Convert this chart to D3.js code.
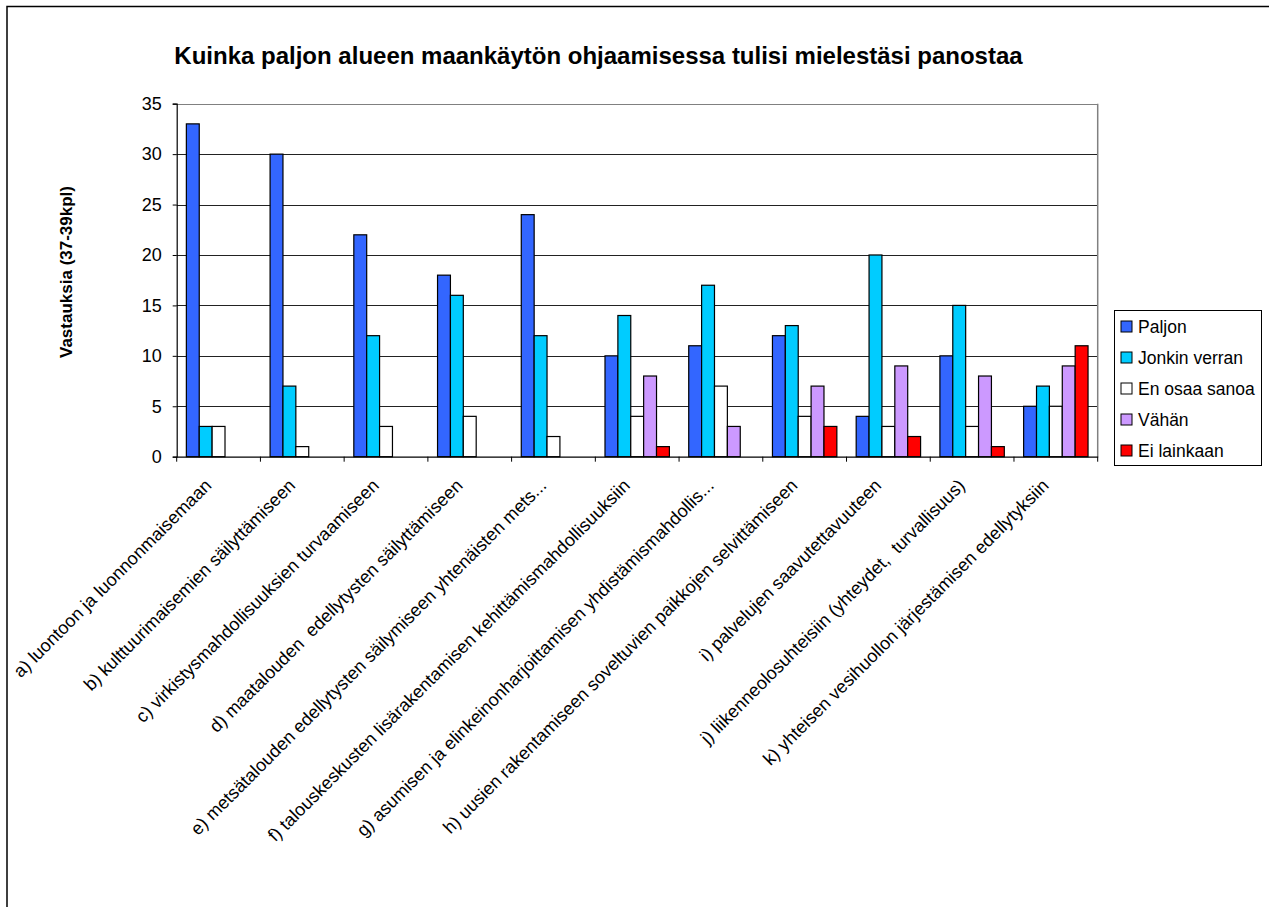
<!DOCTYPE html>
<html>
<head>
<meta charset="utf-8">
<script src="https://cdn.jsdelivr.net/npm/d3@7"></script>
<style>
  body { margin: 0; background: #fff; }
  text { font-family: Arial, "Liberation Sans", sans-serif; }
</style>
</head>
<body>
<svg id="chart" width="1269" height="907"></svg>
<script>
var categories = [
  'a) luontoon ja luonnonmaisemaan',
  'b) kulttuurimaisemien säilyttämiseen',
  'c) virkistysmahdollisuuksien turvaamiseen',
  'd) maatalouden  edellytysten säilyttämiseen',
  'e) metsätalouden edellytysten säilymiseen yhtenäisten mets...',
  'f) talouskeskusten lisärakentamisen kehittämismahdollisuuksiin',
  'g) asumisen ja elinkeinonharjoittamisen yhdistämismahdollis...',
  'h) uusien rakentamiseen soveltuvien paikkojen selvittämiseen',
  'i) palvelujen saavutettavuuteen',
  'j) liikenneolosuhteisiin (yhteydet,  turvallisuus)',
  'k) yhteisen vesihuollon järjestämisen edellytyksiin'
]
var seriesNames = ['Paljon', 'Jonkin verran', 'En osaa sanoa', 'Vähän', 'Ei lainkaan']
var seriesColors = ['#3366ff', '#00ccff', '#ffffff', '#cc99ff', '#ff0000']
var paljon = [33, 30, 22, 18, 24, 10, 11, 12, 4, 10, 5]
var jonkinVerran = [3, 7, 12, 16, 12, 14, 17, 13, 20, 15, 7]
var enOsaaSanoa = [3, 1, 3, 4, 2, 4, 7, 4, 3, 3, 5]
var vahan = [0, 0, 0, 0, 0, 8, 3, 7, 9, 8, 9]
var eiLainkaan = [0, 0, 0, 0, 0, 1, 0, 3, 2, 1, 11]
var yTicks = [0, 5, 10, 15, 20, 25, 30, 35]
var title = 'Kuinka paljon alueen maankäytön ohjaamisessa tulisi mielestäsi panostaa'
var yTitle = 'Vastauksia (37-39kpl)'

var allSeries = [paljon, jonkinVerran, enOsaaSanoa, vahan, eiLainkaan]

var svg = d3.select('#chart')

// outer chart border (cut off on the right and bottom like the original)
svg.append('path')
  .attr('d', 'M7,912 L7,6.5 L1275,6.5')
  .attr('fill', 'none')
  .attr('stroke', '#000')
  .attr('stroke-width', 1.5)

var plotLeft = 176.7
var plotRight = 1097.7
var plotTop = 103.7
var plotBottom = 456.7

var x = d3.scaleBand().domain(categories).range([plotLeft, plotRight]).paddingInner(0).paddingOuter(0)
var x1 = d3.scaleBand().domain(d3.range(seriesNames.length))
  .range([0, x.bandwidth()]).paddingOuter(0.75).paddingInner(0)
var y = d3.scaleLinear().domain([0, 35]).range([plotBottom, plotTop])

// gridlines
svg.append('g').selectAll('line')
  .data(yTicks.filter(function (d) { return d > 0 }))
  .enter().append('line')
  .attr('x1', plotLeft).attr('x2', plotRight)
  .attr('y1', function (d) { return Math.round(y(d)) + 0.5 })
  .attr('y2', function (d) { return Math.round(y(d)) + 0.5 })
  .attr('stroke', function (d) { return d === 35 ? '#808080' : '#222' })
  .attr('stroke-width', 1)

// plot area right border
svg.append('line')
  .attr('x1', plotRight).attr('x2', plotRight).attr('y1', plotTop).attr('y2', plotBottom)
  .attr('stroke', '#808080').attr('stroke-width', 1.5)

// bars
var groups = svg.append('g').selectAll('g')
  .data(categories)
  .enter().append('g')
  .attr('transform', function (d) { return 'translate(' + x(d) + ',0)' })

groups.selectAll('rect')
  .data(function (d, i) {
    return allSeries.map(function (s, k) { return { k: k, value: s[i] } })
      .filter(function (o) { return o.value > 0 })
  })
  .enter().append('rect')
  .attr('x', function (d) { return x1(d.k) })
  .attr('width', x1.bandwidth())
  .attr('y', function (d) { return y(d.value) })
  .attr('height', function (d) { return plotBottom - y(d.value) })
  .attr('fill', function (d) { return seriesColors[d.k] })
  .attr('stroke', '#000')
  .attr('stroke-width', 1.2)

// y axis
var yAxis = svg.append('g')
  .attr('transform', 'translate(' + plotLeft + ',0)')
  .call(d3.axisLeft(y).tickValues(yTicks).tickSize(4).tickPadding(11))
yAxis.select('.domain').attr('stroke', '#000').attr('stroke-width', 1.2)
yAxis.selectAll('.tick line').attr('stroke', '#000')
yAxis.selectAll('text').attr('font-size', 18).attr('fill', '#000')
  .attr('font-family', 'Arial, "Liberation Sans", sans-serif')

// x axis
var xAxis = svg.append('g')
  .attr('transform', 'translate(0,' + plotBottom + ')')
  .call(d3.axisBottom(x).tickSize(0).tickFormat(''))
xAxis.select('.domain').attr('stroke', '#000').attr('stroke-width', 1.2)
xAxis.selectAll('.tick').remove()

// category ticks on band boundaries
svg.append('g').selectAll('line')
  .data(categories.concat(['end']))
  .enter().append('line')
  .attr('x1', function (d, i) { return plotLeft + i * x.bandwidth() })
  .attr('x2', function (d, i) { return plotLeft + i * x.bandwidth() })
  .attr('y1', plotBottom).attr('y2', plotBottom + 5)
  .attr('stroke', '#000')

// rotated category labels
svg.append('g').selectAll('text')
  .data(categories)
  .enter().append('text')
  .attr('transform', function (d) {
    return 'translate(' + (x(d) + x.bandwidth() / 2 - 6) + ',' + (plotBottom + 30) + ') rotate(-45)'
  })
  .attr('text-anchor', 'end')
  .attr('font-size', 18)
  .attr('fill', '#000')
  .style('white-space', 'pre')
  .text(function (d) { return d })

// title
svg.append('text')
  .attr('x', 598.5).attr('y', 64)
  .attr('text-anchor', 'middle')
  .attr('font-size', 24)
  .attr('font-weight', 'bold')
  .text(title)

// y title
svg.append('text')
  .attr('transform', 'translate(72,272) rotate(-90)')
  .attr('text-anchor', 'middle')
  .attr('font-size', 17)
  .attr('font-weight', 'bold')
  .text(yTitle)

// legend
var legend = svg.append('g')
legend.append('rect')
  .attr('x', 1114.5).attr('y', 310.5).attr('width', 147).attr('height', 155)
  .attr('fill', '#fff').attr('stroke', '#000')

var items = legend.selectAll('.item')
  .data(seriesNames)
  .enter().append('g')
  .attr('class', 'item')
  .attr('transform', function (d, i) { return 'translate(1121,' + (326 + i * 31) + ')' })

items.append('rect')
  .attr('x', 0).attr('y', -5).attr('width', 11).attr('height', 11)
  .attr('fill', function (d, i) { return seriesColors[i] })
  .attr('stroke', '#000')

items.append('text')
  .attr('x', 17).attr('y', 6.5)
  .attr('font-size', 17.5)
  .text(function (d) { return d })
</script>
</body>
</html>
